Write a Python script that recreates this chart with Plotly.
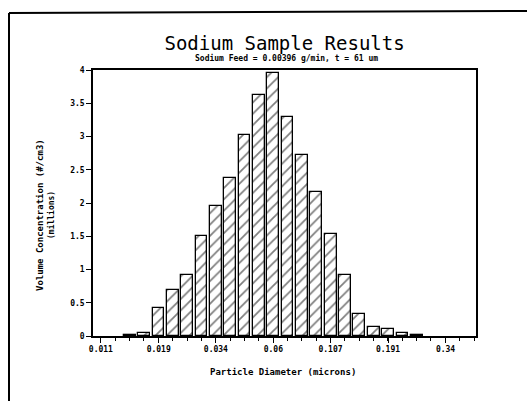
import numpy as np
import plotly.graph_objects as go

# Bin centre diameters (microns), log-spaced bins
diameters = [0.01429, 0.01650, 0.01905, 0.02200, 0.02541, 0.02934, 0.03388,
             0.03913, 0.04519, 0.05218, 0.06026, 0.06959, 0.08035, 0.09279,
             0.10715, 0.12374, 0.14289, 0.16501, 0.19055, 0.22004, 0.25410]
# Volume concentration (#/cm3, millions)
values = [0.02, 0.04, 0.42, 0.69, 0.92, 1.51, 1.96, 2.37, 3.02, 3.62, 3.95,
          3.29, 2.72, 2.17, 1.54, 0.91, 0.33, 0.14, 0.10, 0.05, 0.02]
tick_values = [0.0107, 0.0191, 0.0339, 0.0603, 0.107, 0.1905, 0.339]
tick_labels = ["0.011", "0.019", "0.034", "0.06", "0.107", "0.191", "0.34"]
y_ticks = [0, 0.5, 1, 1.5, 2, 2.5, 3, 3.5, 4]

logd = np.log10(diameters)
bin_w = 0.0625

mono = "DejaVu Sans Mono"

fig = go.Figure()
fig.add_trace(go.Bar(
    x=logd, y=values, width=bin_w * 0.82,
    marker=dict(color="white",
                line=dict(color="black", width=1.3),
                pattern=dict(shape="/", fgcolor="black", bgcolor="white",
                             size=8, solidity=0.22)),
    showlegend=False,
))

fig.update_layout(
    width=527, height=401,
    margin=dict(l=93, r=51, t=70, b=65),
    paper_bgcolor="white", plot_bgcolor="white",
    font=dict(family=mono, color="black"),
    title=dict(text="Sodium Sample Results", x=0.54, xanchor="center",
               y=1 - 43 / 401, yanchor="middle",
               font=dict(family=mono, size=19, color="black")),
    bargap=0,
)
fig.update_xaxes(
    range=[-2.005, -0.337], showgrid=False, zeroline=False,
    tickmode="array", tickvals=np.log10(tick_values), ticktext=tick_labels,
    ticks="outside", ticklen=5, tickwidth=1.2, tickcolor="black",
    tickfont=dict(family=mono, size=8, color="black", weight="bold"),
    minor=dict(ticks="outside", ticklen=3, tickwidth=1, tickcolor="black",
               dtick=bin_w, tick0=np.log10(tick_values[0])),
    showline=True, linecolor="black", linewidth=1.5, mirror=True,
)
fig.update_yaxes(
    range=[0, 4], showgrid=False, zeroline=False,
    tickmode="array", tickvals=y_ticks,
    ticks="outside", ticklen=5, tickwidth=1.2, tickcolor="black",
    tickfont=dict(family=mono, size=8, color="black", weight="bold"),
    showline=True, linecolor="black", linewidth=1.5, mirror=True,
)

pw, ph = 383, 266
def px(x):
    return (x - 93) / pw
def py(y):
    return (336 - y) / ph

fig.add_annotation(text="Sodium Feed = 0.00396 g/min, t = 61 um",
                   xref="paper", yref="paper", x=px(286), y=py(58),
                   showarrow=False, xanchor="center", yanchor="middle",
                   font=dict(family=mono, size=8, color="black", weight="bold"))
fig.add_annotation(text="Particle Diameter (microns)",
                   xref="paper", yref="paper", x=px(283), y=py(372),
                   showarrow=False, xanchor="center", yanchor="middle",
                   font=dict(family=mono, size=9, color="black", weight="bold"))
fig.add_annotation(text="Volume Concentration (#/cm3)",
                   xref="paper", yref="paper", x=px(40), y=py(215),
                   showarrow=False, textangle=-90, xanchor="center", yanchor="middle",
                   font=dict(family=mono, size=9, color="black", weight="bold"))
fig.add_annotation(text="(millions)",
                   xref="paper", yref="paper", x=px(51), y=py(215),
                   showarrow=False, textangle=-90, xanchor="center", yanchor="middle",
                   font=dict(family=mono, size=8, color="black", weight="bold"))

# scanned page frame
fig.add_shape(type="line", xref="paper", yref="paper",
              x0=px(9), y0=py(13), x1=px(527), y1=py(11),
              line=dict(color="black", width=2))
fig.add_shape(type="line", xref="paper", yref="paper",
              x0=px(9), y0=py(13), x1=px(9), y1=py(401),
              line=dict(color="black", width=2))

fig.write_html("out.html")
